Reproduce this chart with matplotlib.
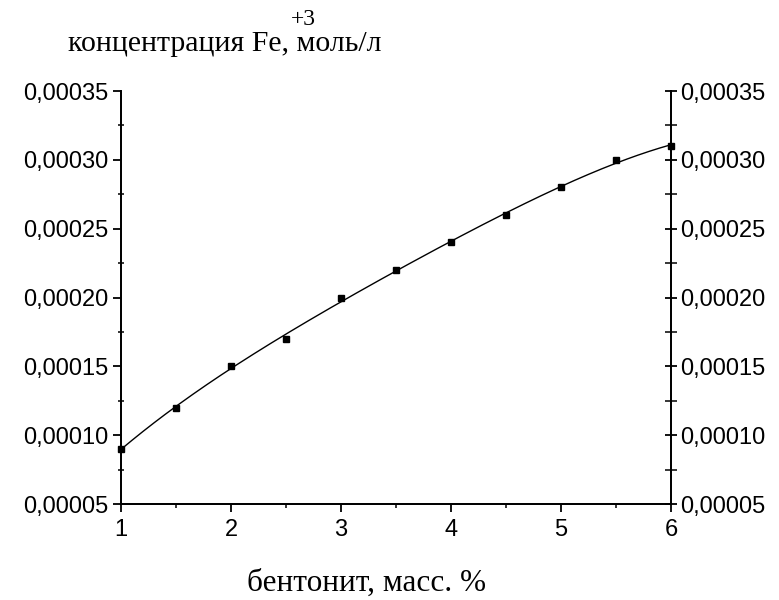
import matplotlib
matplotlib.use("Agg")
import matplotlib.pyplot as plt
import numpy as np
from matplotlib.ticker import FuncFormatter, MultipleLocator

# bentonite content, mass %
bentonite = np.array([1, 1.5, 2, 2.5, 3, 3.5, 4, 4.5, 5, 5.5, 6])
# Fe(+3) concentration, mol/l
fe_conc = np.array([0.00009, 0.00012, 0.00015, 0.00017, 0.00020, 0.00022,
                    0.00024, 0.00026, 0.00028, 0.00030, 0.00031])

fig = plt.figure(figsize=(7.79, 6.0), dpi=100)
ax = fig.add_axes([0.1553, 0.16, 0.706, 0.6883])

# smooth fit curve through the points
coef = np.polyfit(bentonite, fe_conc, 4)
xs = np.linspace(bentonite.min(), bentonite.max(), 200)
ax.plot(xs, np.polyval(coef, xs), color="black", lw=1.0)
ax.plot(bentonite, fe_conc, "s", color="black", ms=4, clip_on=False, zorder=5)

ax.set_xlim(1, 6)
ax.set_ylim(0.00005, 0.00035)

fmt = FuncFormatter(lambda v, p: ("%.5f" % v).replace(".", ","))
ax.xaxis.set_major_locator(MultipleLocator(1))
ax.xaxis.set_minor_locator(MultipleLocator(0.5))
ax.yaxis.set_major_locator(MultipleLocator(0.00005))
ax.yaxis.set_minor_locator(MultipleLocator(0.000025))
ax.yaxis.set_major_formatter(fmt)

# right axis with the same scale
ax2 = ax.twinx()
ax2.set_ylim(ax.get_ylim())
ax2.yaxis.set_major_locator(MultipleLocator(0.00005))
ax2.yaxis.set_minor_locator(MultipleLocator(0.000025))
ax2.yaxis.set_major_formatter(fmt)

for a in (ax, ax2):
    a.spines["top"].set_visible(False)
    for s in ["left", "right", "bottom"]:
        a.spines[s].set_linewidth(1.3)

ax.tick_params(axis="x", which="major", direction="out", length=6, width=1.3,
               labelsize=17, pad=5, labelfontfamily="Liberation Sans")
ax.tick_params(axis="x", which="minor", direction="out", length=3, width=1.1)
ax.tick_params(axis="y", which="major", direction="out", length=6, width=1.3,
               labelsize=17, pad=3, labelfontfamily="Liberation Sans")
ax.tick_params(axis="y", which="minor", direction="inout", length=4, width=1.1)
ax2.tick_params(axis="y", which="major", direction="inout", length=9, width=1.3,
                labelsize=17, pad=2, labelfontfamily="Liberation Sans")
ax2.tick_params(axis="y", which="minor", direction="inout", length=8, width=1.1)

fig.text(0.087, 0.915, "концентрация Fe, моль/л", fontsize=21.5,
         family="Liberation Serif", ha="left", va="baseline")
fig.text(0.373, 0.959, "+3", fontsize=17, family="Liberation Serif",
         ha="left", va="baseline")
fig.text(0.47, 0.015, "бентонит, масс. %", fontsize=22.5,
         family="Liberation Serif", ha="center", va="baseline")

fig.savefig("out.png", dpi=100)
